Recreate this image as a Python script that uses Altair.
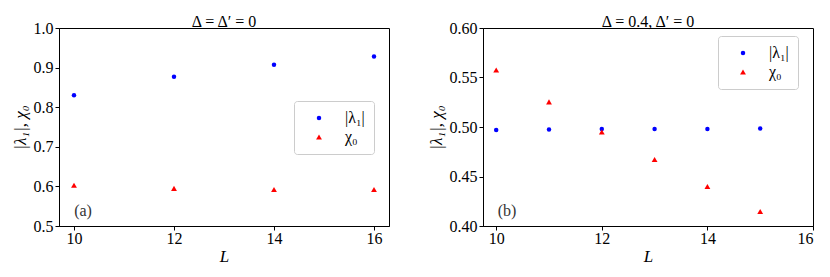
import altair as alt
import pandas as pd

L_a = [10, 12, 14, 16]
lam_a = [0.830, 0.877, 0.907, 0.928]
chi_a = [0.603, 0.595, 0.592, 0.592]

L_b = [10, 11, 12, 13, 14, 15]
lam_b = [0.497, 0.4975, 0.498, 0.498, 0.498, 0.4985]
chi_b = [0.5576, 0.5254, 0.495, 0.4672, 0.440, 0.4147]

series = ["|λ₁|", "χ₀"]
colors = ["#0000ff", "#ff0000"]
shapes = ["circle", "triangle-up"]
sizes = [20, 34]

FONT = "Liberation Serif"


def make_df(L, lam, chi):
    rows = []
    for x, v in zip(L, lam):
        rows.append({"L": x, "v": v, "s": series[0]})
    for x, v in zip(L, chi):
        rows.append({"L": x, "v": v, "s": series[1]})
    return pd.DataFrame(rows)


def panel(df, title, xdom, ydom, yvals, yfmt, label, legend_y):
    base = alt.Chart(df)
    leg = alt.Legend(title=None, orient="none", legendX=235, legendY=legend_y)
    pts = base.mark_point(filled=True, opacity=1).encode(
        x=alt.X("L:Q", scale=alt.Scale(domain=xdom, nice=False, zero=False),
                axis=alt.Axis(values=[10, 12, 14, 16], format="d", title="L",
                              titleFontStyle="italic")),
        y=alt.Y("v:Q", scale=alt.Scale(domain=ydom, nice=False, zero=False),
                axis=alt.Axis(values=yvals, format=yfmt, title="|λ₁|, χ₀",
                              titleFontStyle="italic")),
        color=alt.Color("s:N", scale=alt.Scale(domain=series, range=colors),
                        legend=leg),
        shape=alt.Shape("s:N", scale=alt.Scale(domain=series, range=shapes),
                        legend=leg),
        size=alt.Size("s:N", scale=alt.Scale(domain=series, range=sizes),
                      legend=leg),
    )
    txt = alt.Chart(pd.DataFrame({"t": [label]})).mark_text(
        font=FONT, fontSize=16, color="#333333"
    ).encode(x=alt.value(24), y=alt.value(183), text="t:N")
    return alt.layer(pts, txt).properties(
        width=330, height=198,
        title=alt.TitleParams(title, font=FONT, fontSize=16, fontWeight="normal",
                              offset=-10),
    )


pa = panel(make_df(L_a, lam_a, chi_a), "Δ = Δ′ = 0", [9.7, 16.3], [0.5, 1.0],
           [0.5, 0.6, 0.7, 0.8, 0.9, 1.0], ".1f", "(a)", 73)
pb = panel(make_df(L_b, lam_b, chi_b), "Δ = 0.4, Δ′ = 0", [9.75, 16.0], [0.4, 0.6],
           [0.40, 0.45, 0.50, 0.55, 0.60], ".2f", "(b)", 8)

chart = alt.hconcat(pa, pb, spacing=36).resolve_scale(
    color="independent", shape="independent", size="independent"
).resolve_legend(color="independent", shape="independent", size="independent").properties(
    padding={"left": 2, "top": 5, "right": 5, "bottom": 0}
).configure_view(stroke="black", strokeWidth=1).configure_axis(
    grid=False, domainColor="black", tickColor="black", tickSize=4,
    labelFont=FONT, labelFontSize=16, labelColor="black",
    titleFont=FONT, titleFontSize=17, titleFontWeight="normal", titleColor="black",
    labelPadding=2, titlePadding=4,
).configure_axisX(labelPadding=0, titlePadding=2).configure_legend(
    labelFont=FONT, labelFontSize=16, labelColor="black",
    strokeColor="#cccccc", fillColor="white", cornerRadius=3, padding=9,
    symbolOffset=8, labelOffset=18, rowPadding=3,
)

chart.save("out.html", embed_options={"renderer": "svg", "actions": False})
